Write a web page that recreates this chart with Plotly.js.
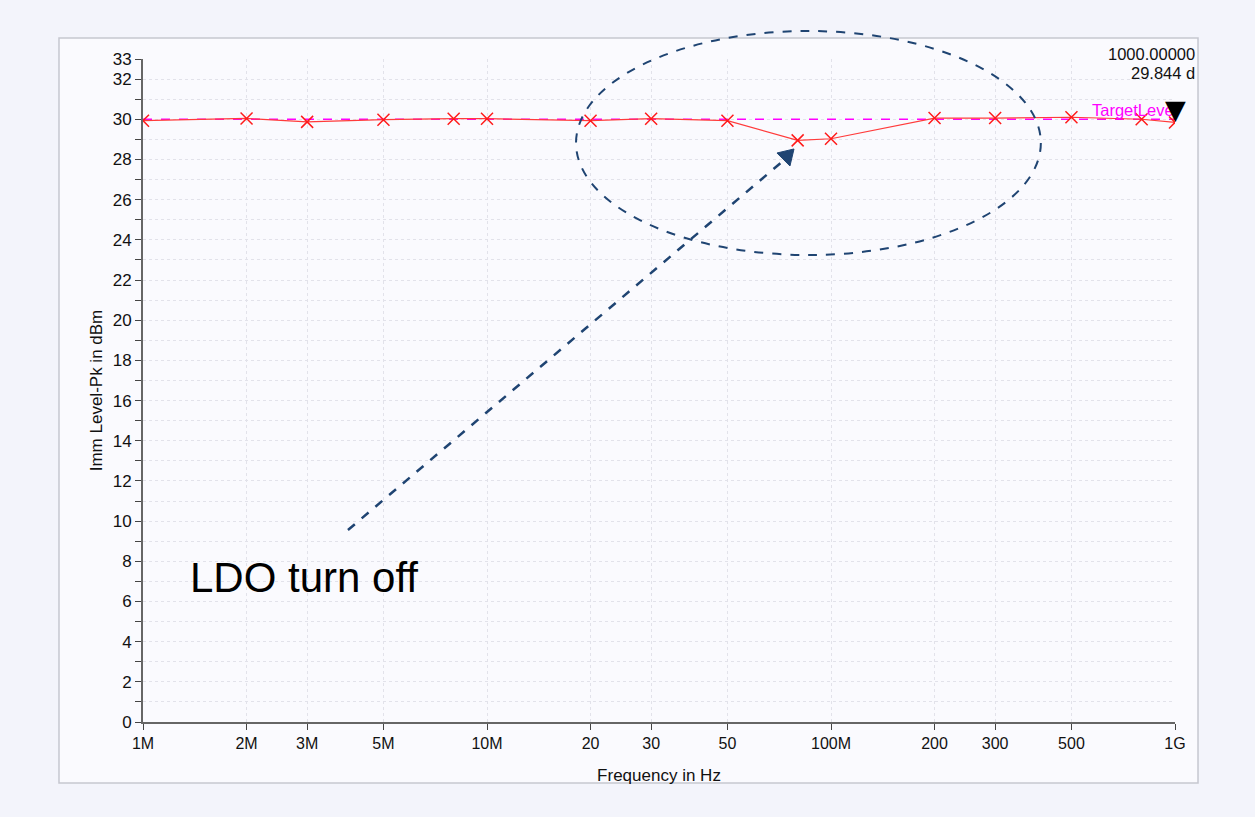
<!DOCTYPE html>
<html>
<head>
<meta charset="utf-8">
<script src="https://cdn.plot.ly/plotly-3.0.1.min.js"></script>
<style>
html,body{margin:0;padding:0;background:#f3f4fb;}
#chart{width:1255px;height:817px;}
</style>
</head>
<body>
<div id="chart"></div>
<script>
// Data
const freqsHz = [1e6, 2e6, 3e6, 5e6, 8e6, 1e7, 2e7, 3e7, 5e7, 8e7, 1e8, 2e8, 3e8, 5e8, 8e8, 1e9];
const levelDbm = [29.93, 30.04, 29.87, 29.98, 30.03, 30.03, 29.93, 30.03, 29.93, 28.95, 29.03, 30.06, 30.06, 30.1, 30.0, 29.844];
const targetLevel = 30.0;
const xTickVals = [1e6, 2e6, 3e6, 5e6, 1e7, 2e7, 3e7, 5e7, 1e8, 2e8, 3e8, 5e8, 1e9];
const xTickText = ['1M', '2M', '3M', '5M', '10M', '20', '30', '50', '100M', '200', '300', '500', '1G'];
const yTickVals = [0, 2, 4, 6, 8, 10, 12, 14, 16, 18, 20, 22, 24, 26, 28, 30, 32, 33];
const yMinorVals = [1, 3, 5, 7, 9, 11, 13, 15, 17, 19, 21, 23, 25, 27, 29, 31];

const font = 'Liberation Sans, Arial, Helvetica, sans-serif';
const lastF = freqsHz[freqsHz.length - 1];
const lastV = levelDbm[levelDbm.length - 1];

const traces = [
  {
    x: [freqsHz[0], lastF], y: [targetLevel, targetLevel],
    mode: 'lines', line: {color: '#ff00ff', width: 1.5, dash: 'dash'},
    hoverinfo: 'skip', showlegend: false
  },
  {
    x: freqsHz, y: levelDbm, mode: 'lines+markers',
    line: {color: '#ff3b3b', width: 1.2},
    marker: {symbol: 'x-thin', size: 12, line: {color: '#ff1a1a', width: 1.5}, color: '#ff1a1a'},
    showlegend: false
  }
];

const gridColor = '#e2e2ea';
const layout = {
  width: 1255, height: 817,
  margin: {l: 143, r: 80, t: 59, b: 95},
  paper_bgcolor: '#f3f4fb',
  plot_bgcolor: 'rgba(0,0,0,0)',
  font: {family: font, color: '#111', size: 17},
  showlegend: false,
  xaxis: {
    type: 'log', range: [6, 9],
    tickmode: 'array', tickvals: xTickVals, ticktext: xTickText,
    ticks: 'outside', ticklen: 6, tickcolor: '#444', tickwidth: 1,
    showline: true, linecolor: '#666', linewidth: 2,
    showgrid: true, gridcolor: gridColor, griddash: 'dot', gridwidth: 1,
    zeroline: false,
    tickfont: {size: 16, family: font, color: '#111'},
    title: {text: 'Frequency in Hz', font: {size: 17, family: font, color: '#111'}, standoff: 18}
  },
  yaxis: {
    range: [0, 33],
    tickmode: 'array', tickvals: yTickVals,
    ticks: 'outside', ticklen: 6, tickcolor: '#444', tickwidth: 1,
    showline: true, linecolor: '#666', linewidth: 2,
    showgrid: true, gridcolor: gridColor, griddash: 'dot', gridwidth: 1,
    zeroline: false,
    tickfont: {size: 17, family: font, color: '#111'},
    minor: {tickmode: 'array', tickvals: yMinorVals, ticks: 'outside', ticklen: 6, tickcolor: '#444', showgrid: true, gridcolor: gridColor, griddash: 'dot'},
    title: {text: 'Imm Level-Pk in dBm', font: {size: 17, family: font, color: '#111'}, standoff: 6}
  },
  shapes: [
    {type: 'rect', xref: 'paper', yref: 'paper', x0: -0.0814, x1: 1.0223, y0: -0.092, y1: 1.0317,
     fillcolor: '#fafafe', line: {color: '#c6c7d0', width: 1.5}, layer: 'below'},
    {type: 'circle', xref: 'paper', yref: 'paper', x0: 0.4196, x1: 0.870, y0: 0.7044, y1: 1.0422,
     line: {color: '#1f4472', width: 2, dash: 'dash'}},
    {type: 'line', xref: 'paper', yref: 'paper', x0: 0.1986, y0: 0.2896, x1: 0.6202, y1: 0.8462,
     line: {color: '#1f4472', width: 2.5, dash: 'dash'}},
    {type: 'path', xref: 'paper', yref: 'paper', path: 'M 0.6308 0.8643 L 0.6143 0.8582 L 0.6269 0.8386 Z',
     fillcolor: '#1f4472', line: {color: '#1f4472', width: 1}}
  ],
  annotations: [
    {xref: 'x', yref: 'y', x: 9, y: targetLevel, text: 'TargetLevel', showarrow: false,
     xanchor: 'right', yanchor: 'bottom', xshift: 4, yshift: -2, font: {color: '#ff00ff', size: 16.5, family: font}},
    {xref: 'x', yref: 'y', x: 9, y: lastV, text: '▼', showarrow: false,
     xanchor: 'center', yanchor: 'middle', yshift: 13, font: {color: '#000', size: 27, family: 'DejaVu Sans'}},
    {xref: 'paper', yref: 'paper', x: 1.0213, y: 1.0075, text: (lastF / 1e6).toFixed(5), showarrow: false,
     xanchor: 'right', yanchor: 'middle', font: {size: 16.5, family: font, color: '#111'}},
    {xref: 'paper', yref: 'paper', x: 1.0213, y: 0.979, text: lastV.toFixed(3) + ' d', showarrow: false,
     xanchor: 'right', yanchor: 'middle', font: {size: 16.5, family: font, color: '#111'}},
    {xref: 'paper', yref: 'paper', x: 0.0436, y: 0.2187, text: 'LDO turn off', showarrow: false,
     xanchor: 'left', yanchor: 'middle', font: {size: 42, family: font, color: '#000'}}
  ]
};

Plotly.newPlot('chart', traces, layout, {displayModeBar: false, staticPlot: true});
</script>
</body>
</html>
